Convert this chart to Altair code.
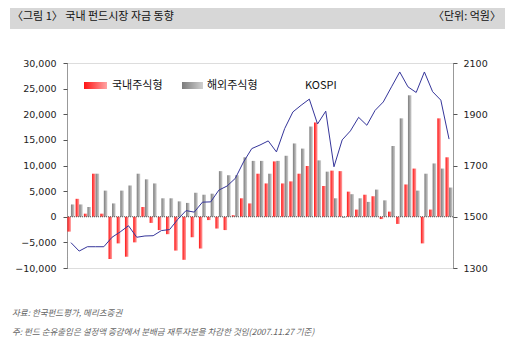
import altair as alt
import pandas as pd

weeks = ["1/5", "1/12", "1/19", "1/26", "2/2", "2/9", "2/16", "2/23", "3/2", "3/9",
         "3/16", "3/23", "3/30", "4/6", "4/13", "4/20", "4/27", "5/4", "5/11", "5/18",
         "5/25", "6/1", "6/8", "6/15", "6/22", "6/29", "7/6", "7/13", "7/20", "7/27",
         "8/3", "8/10", "8/17", "8/24", "8/31", "9/7", "9/14", "9/21", "9/28", "10/5",
         "10/12", "10/19", "10/26", "11/2", "11/9", "11/16", "11/23"]

domestic = [-2900, 3500, 600, 8400, 600, -8250, -5200, -7800, -5000, 1900,
            -1200, -2600, -3400, -6600, -8400, -4000, -6200, -650, -2300, -2600,
            300, 3600, 2600, 8400, 6500, 10800, 6500, 6900, 8400, 9900,
            18400, 6000, 9000, 8900, 4900, 1400, 4300, 4000, -450, 1000,
            -1400, 6300, 9400, -5200, 1400, 19200, 11600]

overseas = [2400, 2400, 1900, 8400, 5100, 2600, 5100, 6100, 8400, 7300,
            6500, 3600, 3600, 3000, 2700, 4700, 4300, 4500, 8900, 8100,
            8100, 11600, 10900, 10900, 8400, 10900, 11900, 14300, 13300, 17600,
            11000, 8800, 3600, -200, 4400, 3600, 2900, 5300, 3200, 13800,
            19200, 23700, 5100, 8400, 10400, 9400, 5700]

kospi = [1399, 1366, 1383, 1383, 1383, 1420, 1441, 1465, 1420, 1425,
         1426, 1446, 1450, 1490, 1524, 1518, 1557, 1558, 1604, 1620,
         1650, 1714, 1766, 1780, 1796, 1753, 1844, 1909, 1935, 1959,
         1862, 1912, 1695, 1800, 1835, 1888, 1857, 1915, 1948, 2007,
         2065, 2007, 1985, 2065, 1988, 1955, 1803]

tick_labels = ["1/5", "1/26", "2/16", "3/9", "3/30", "4/20", "5/11", "6/1", "6/22",
               "7/13", "8/3", "8/24", "9/14", "10/5", "10/26", "11/16"]
left_ticks = [-10000, -5000, 0, 5000, 10000, 15000, 20000, 25000, 30000]
right_ticks = [1300, 1500, 1700, 1900, 2100]
series_names = ["국내주식형", "해외주식형"]
line_name = "KOSPI"

title_left = "〈그림 1〉 국내 펀드시장 자금 동향"
title_right = "〈단위: 억원〉"
source_note = "자료: 한국펀드평가, 메리츠증권"
foot_note = "주: 펀드 순유출입은 설정액 증감에서 분배금 재투자분을 차감한 것임(2007.11.27 기준)"

df_bar = pd.DataFrame({
    "week": weeks * 2,
    "type": [series_names[0]] * len(weeks) + [series_names[1]] * len(weeks),
    "value": domestic + overseas,
})
df_line = pd.DataFrame({"week": weeks, "kospi": kospi})

NUM_FONT = "DejaVu Sans"
KR_FONT = "Noto Sans CJK KR"

red_grad = {"gradient": "linear", "x1": 0, "x2": 1, "y1": 0, "y2": 0,
            "stops": [{"offset": 0, "color": "#ff1414"}, {"offset": 1, "color": "#ffa4a4"}]}
gray_grad = {"gradient": "linear", "x1": 0, "x2": 1, "y1": 0, "y2": 0,
             "stops": [{"offset": 0, "color": "#7c7c7c"}, {"offset": 1, "color": "#d0d0d0"}]}

x_scale = alt.Scale(domain=weeks, paddingInner=0.14, paddingOuter=0.05)
x_enc = alt.X("week:N", sort=weeks, scale=x_scale,
              axis=alt.Axis(values=tick_labels, labelAngle=0, domain=False, ticks=False,
                            labelPadding=10, labelFontSize=9.5, labelFont=NUM_FONT,
                            labelColor="#222", title=None, labelOverlap=False))
x_plain = alt.X("week:N", sort=weeks, scale=x_scale, axis=None)
xoff = alt.XOffset("type:N", scale=alt.Scale(domain=series_names))

left_scale = alt.Scale(domain=[-10000, 30000], nice=False)

red = alt.Chart(df_bar).transform_filter(alt.datum.type == series_names[0]).mark_bar(
    fill=red_grad).encode(
    x=x_enc, xOffset=xoff,
    y=alt.Y("value:Q", scale=left_scale,
            axis=alt.Axis(values=left_ticks, format=",.0f", orient="left", title=None,
                          grid=False, domainColor="#555", domainDash=[1, 1],
                          tickColor="#555", tickSize=4, labelPadding=7,
                          labelFontSize=9.5, labelFont=NUM_FONT, labelColor="#222")))

gray = alt.Chart(df_bar).transform_filter(alt.datum.type == series_names[1]).mark_bar(
    fill=gray_grad).encode(
    x=x_plain, xOffset=xoff,
    y=alt.Y("value:Q", scale=left_scale, axis=None))

zero = alt.Chart(pd.DataFrame({"v": [0]})).mark_rule(
    color="#555", strokeDash=[1, 1], strokeWidth=1).encode(
    y=alt.Y("v:Q", scale=left_scale, axis=None))

line = alt.Chart(df_line).mark_line(color="#35359a", strokeWidth=1).encode(
    x=x_plain,
    y=alt.Y("kospi:Q", scale=alt.Scale(domain=[1300, 2100], nice=False),
            axis=alt.Axis(values=right_ticks, format="d", orient="right", title=None,
                          grid=False, domainColor="#555", domainDash=[1, 1],
                          tickColor="#555", tickSize=4, labelPadding=6,
                          labelFontSize=9.5, labelFont=NUM_FONT, labelColor="#222")))


def label(text, x, y, align="left", size=11, color="#111", style="normal"):
    return alt.Chart(pd.DataFrame({"t": [text]})).mark_text(
        align=align, baseline="middle", font=KR_FONT, fontSize=size, color=color,
        fontStyle=style).encode(x=alt.value(x), y=alt.value(y), text="t:N")


one = pd.DataFrame({"t": [title_left]})
title_bar = alt.Chart(one).mark_rect(color="#d7d7d7").encode(
    x=alt.value(-57), x2=alt.value(438), y=alt.value(-58), y2=alt.value(-34))

leg_red = alt.Chart(one).mark_rect(fill=red_grad).encode(
    x=alt.value(17), x2=alt.value(40), y=alt.value(19), y2=alt.value(26))
leg_gray = alt.Chart(one).mark_rect(fill=gray_grad).encode(
    x=alt.value(115), x2=alt.value(136), y=alt.value(19), y2=alt.value(26))

chart = alt.layer(
    title_bar,
    label(title_left, -55, -46),
    label(title_right, 434, -46, align="right"),
    red, gray, zero, line,
    leg_red, leg_gray,
    label(series_names[0], 45, 22.5),
    label(series_names[1], 140, 22.5),
    label(line_name, 238, 22.5),
    label(source_note, -55, 250, size=8.5, color="#666", style="italic"),
    label(foot_note, -55, 269, size=8.5, color="#666", style="italic"),
).resolve_scale(y="independent").properties(
    width=386, height=205,
    autosize=alt.AutoSizeParams(type="none"),
    padding={"left": 59, "top": 55, "right": 59, "bottom": 87},
).configure_view(stroke=None).configure(background="white")

chart.save("out.html", embed_options={"renderer": "svg", "actions": False})
